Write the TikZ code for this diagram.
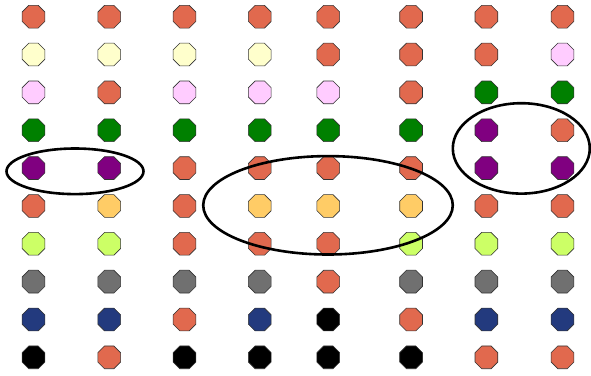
\documentclass[tikz,border=0pt]{standalone}
\usetikzlibrary{shapes.geometric}
\definecolor{cO}{HTML}{E1694E}
\definecolor{cY}{HTML}{FFFFCC}
\definecolor{cP}{HTML}{FFCCFF}
\definecolor{cG}{HTML}{008000}
\definecolor{cU}{HTML}{800080}
\definecolor{cL}{HTML}{FFCC66}
\definecolor{cM}{HTML}{CCFF66}
\definecolor{cR}{HTML}{707070}
\definecolor{cN}{HTML}{233A7E}
\definecolor{cK}{HTML}{000000}
\begin{document}
\begin{tikzpicture}[x=1pt,y=-1pt,
  oct/.style={regular polygon, regular polygon sides=8, minimum size=24.6pt,
    inner sep=0pt, draw=black!80, line width=0.6pt},
  ring/.style={draw=black, line width=2.6pt}]
\useasboundingbox (0,0) rectangle (591,375);
\foreach \row [count=\r from 0] in {
  {O,O,O,O,O,O,O,O},
  {Y,Y,Y,Y,O,O,O,P},
  {P,O,P,P,P,O,G,G},
  {G,G,G,G,G,G,U,O},
  {U,U,O,O,O,O,U,U},
  {O,L,O,L,L,L,O,O},
  {M,M,O,O,O,M,M,M},
  {R,R,R,R,O,R,R,R},
  {N,N,O,N,K,O,N,N},
  {K,O,K,K,K,K,O,O}} {
  \foreach \c [count=\k from 0] in \row {
    \pgfmathsetmacro\xx{{33.5,109.2,184.5,259.8,328.3,411.1,486.4,562.5}[\k]}
    \node[oct, fill=c\c] (n-\r-\k) at (\xx, {16.7+37.85*\r}) {};
  }
}
\draw[ring] (75,171.3) ellipse [x radius=68.5, y radius=22.8];
\draw[ring] (328,205.3) ellipse [x radius=124.8, y radius=49.2];
\draw[ring] (521.3,148.4) ellipse [x radius=68.5, y radius=45.2];
\end{tikzpicture}
\end{document}
